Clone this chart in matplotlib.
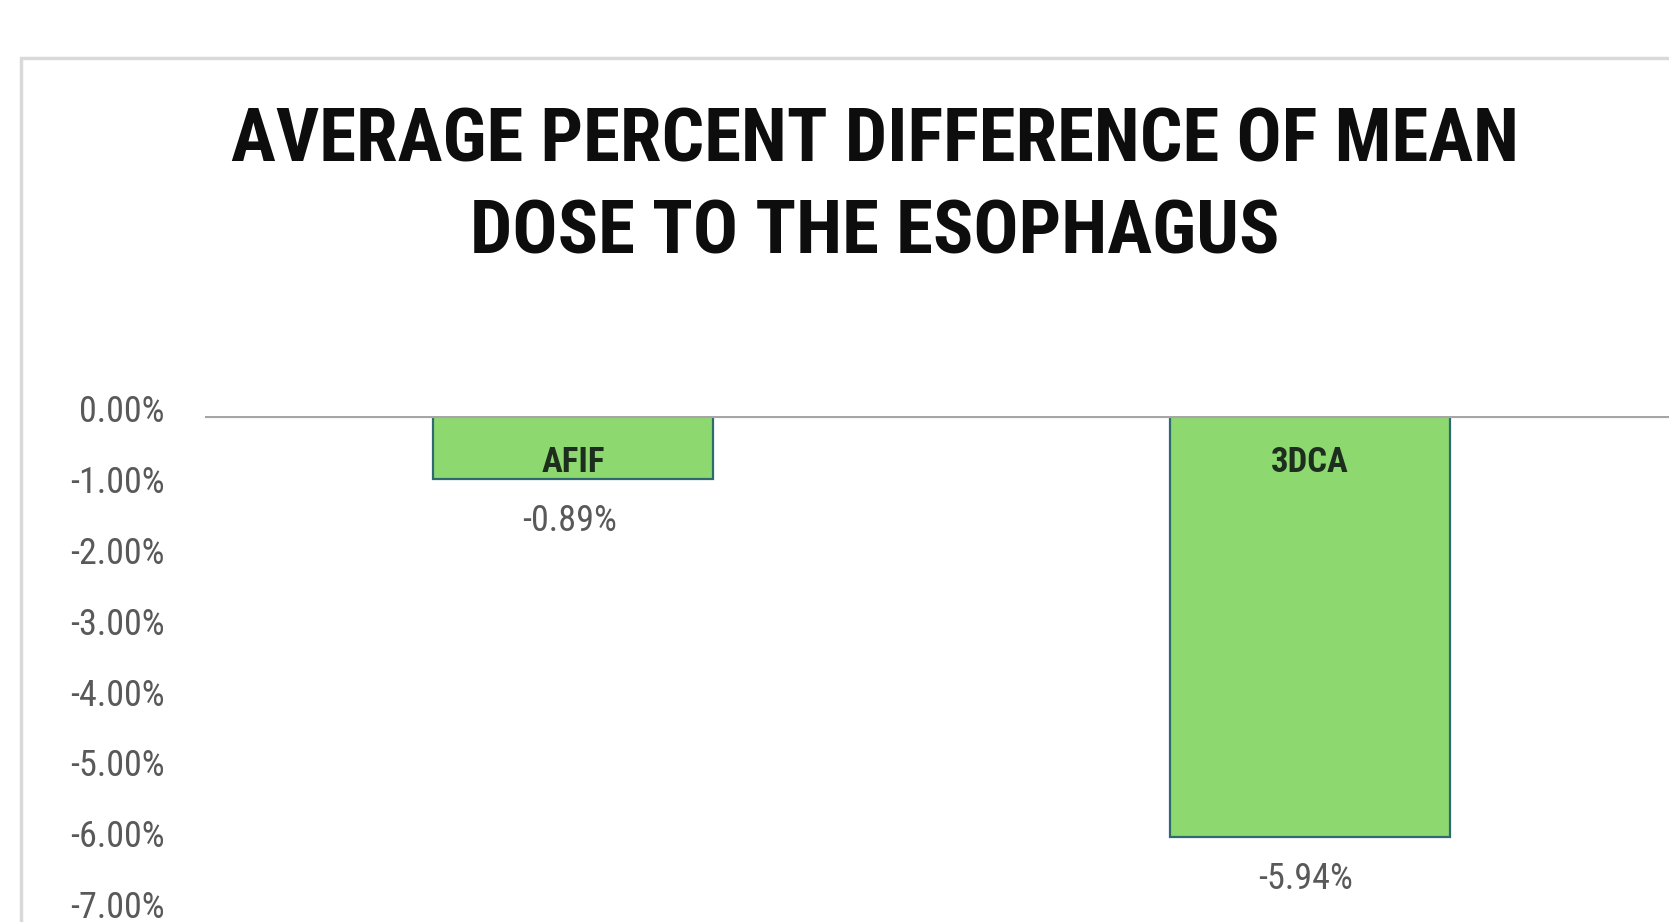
import matplotlib.pyplot as plt
from matplotlib.patches import Rectangle
from matplotlib.transforms import ScaledTranslation

# average percent difference of mean dose to the esophagus
methods = ['AFIF', '3DCA']
pct_diff = [-0.89, -5.94]
tick_vals = [0, -1, -2, -3, -4, -5, -6, -7]
tick_labels = ['0.00%', '-1.00%', '-2.00%', '-3.00%', '-4.00%', '-5.00%', '-6.00%', '-7.00%']
title_lines = ['AVERAGE PERCENT DIFFERENCE OF MEAN', 'DOSE TO THE ESOPHAGUS']

W, H = 1669, 922
narrow = ['Roboto Condensed', 'DejaVu Sans']

fig = plt.figure(figsize=(W / 100, H / 100), dpi=100)
fig.patch.set_facecolor('white')

# light grey frame of the chart area (cut off on right and bottom)
fig.add_artist(Rectangle((21 / W, -0.1), 2.0, 1 - 58 / H + 0.1, transform=fig.transFigure,
                         fill=False, edgecolor='#D9D9D9', lw=2.5))

# title, two centred lines
for i, line in enumerate(title_lines):
    fig.text(875 / W, 1 - (142 + 91 * i) / H, line, ha='center', va='center',
             fontsize=54, fontweight='bold', color='#0D0D0D', family=narrow)

# axes run past the right and bottom edge of the picture
ax = fig.add_axes([205 / W, 0, 1473 / W, 1 - 416.2 / H])
x = [0.5, 1.5]
bars = ax.bar(x, pct_diff, width=0.38, color='#8ED870', edgecolor='#2F6B6E', linewidth=1.6, zorder=2)
ax.axhline(0, color='#A6A6A6', lw=3, zorder=3)
ax.set_xlim(0, 2)
ax.set_ylim(-7.14, 0)

ax.set_xticks([])
ax.set_yticks(tick_vals)
ax.set_yticklabels(tick_labels, family=narrow, fontsize=26, color='#595959')
ax.tick_params(axis='y', length=0, pad=29)
# labels sit a little above their gridline position in the original
shift = ScaledTranslation(0, 0.08, fig.dpi_scale_trans)
for lab in ax.get_yticklabels():
    lab.set_transform(lab.get_transform() + shift)
for s in ax.spines.values():
    s.set_visible(False)

for xi, name, v in zip(x, methods, pct_diff):
    ax.annotate(name, (xi, 0), xytext=(0, -46), textcoords='offset pixels', ha='center', va='center',
                fontsize=25, fontweight='bold', color='#1E2E1E', family=narrow, zorder=4)
    ax.annotate(f'{v:.2f}%', (xi, v), xytext=(-4, -42), textcoords='offset pixels', ha='center',
                va='center', fontsize=26, color='#595959', family=narrow, zorder=4)

fig.savefig('out.png', dpi=100)
